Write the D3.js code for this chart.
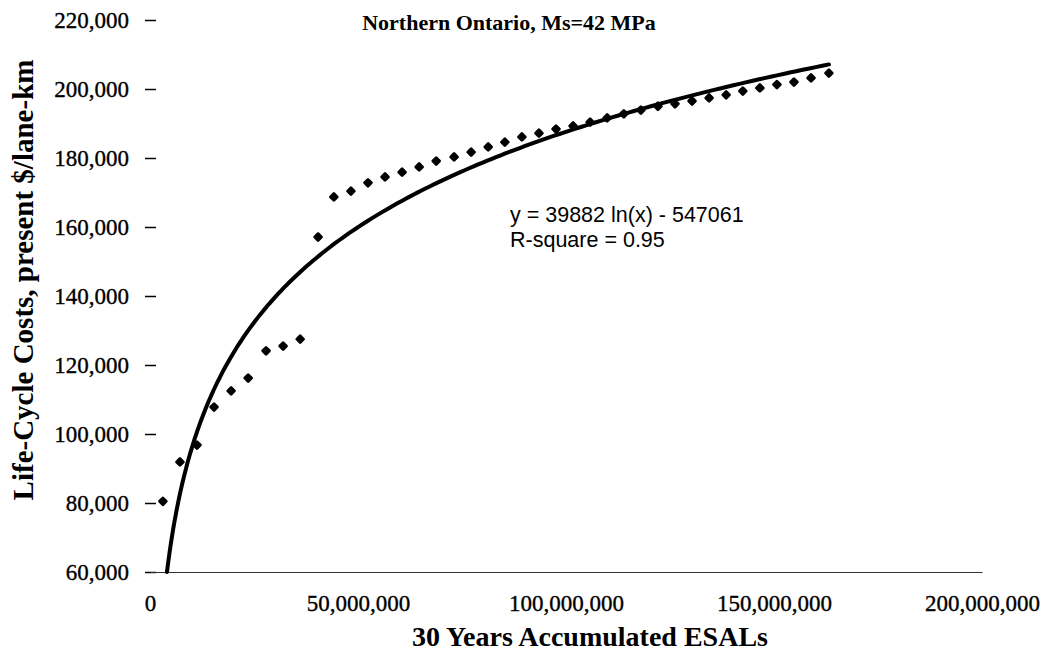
<!DOCTYPE html>
<html>
<head>
<meta charset="utf-8">
<script src="https://cdn.jsdelivr.net/npm/d3@7"></script>
<style>
  body { margin: 0; background: #fff; }
  text { fill: #000; }
</style>
</head>
<body>
<div id="chart"></div>
<script>
// accumulated ESALs (millions) and life-cycle costs
const esalMillions = [3.1, 7.2, 11.3, 15.4, 19.5, 23.6, 27.9, 32.0, 36.1, 40.4,
  44.2, 48.3, 52.4, 56.5, 60.6, 64.7, 68.8, 73.1, 77.2, 81.3,
  85.3, 89.4, 93.5, 97.6, 101.7, 105.8, 109.9, 113.9, 118.0, 122.1,
  126.2, 130.3, 134.4, 138.5, 142.5, 146.6, 150.7, 154.8, 158.9, 163.2];
const costs = [80500, 91900, 96800, 107800, 112500, 116200, 124100, 125500, 127500, 157100,
  168700, 170400, 172800, 174500, 175900, 177400, 179100, 180300, 181700, 183200,
  184600, 186100, 187200, 188400, 189300, 190400, 191600, 192800, 193900, 195000,
  195700, 196500, 197400, 198300, 199400, 200300, 201300, 202000, 203200, 204600];

// log trendline y = a ln(x) + b, as printed on the chart
const trendA = 39882, trendB = -547061;
const xTicks = [0, 50e6, 100e6, 150e6, 200e6];
const yTicks = [60000, 80000, 100000, 120000, 140000, 160000, 180000, 200000, 220000];
const chartTitle = "Northern Ontario, Ms=42 MPa";
const xTitle = "30 Years Accumulated ESALs";
const yTitle = "Life-Cycle Costs, present $/lane-km";
const eqLines = ["y = 39882 ln(x) - 547061", "R-square = 0.95"];

const W = 1055, H = 671;
const margin = { top: 20, right: 73, bottom: 99, left: 150 },
  width = W - margin.left - margin.right,
  height = H - margin.top - margin.bottom;

const svg = d3.select("#chart").append("svg")
  .attr("width", W).attr("height", H);
const g = svg.append("g")
  .attr("transform", `translate(${margin.left},${margin.top})`);

const x = d3.scaleLinear().domain([0, 200e6]).range([0, width]);
const y = d3.scaleLinear().domain([60000, 220000]).range([height, 0]);

const serif = "'Liberation Serif', 'Times New Roman', serif";

// Y axis: no spine, small cross ticks
const yAxis = g.append("g")
  .call(d3.axisLeft(y).tickValues(yTicks).tickSize(5).tickPadding(16).tickFormat(d3.format(",")));
yAxis.select(".domain").remove();
yAxis.selectAll(".tick line").attr("x1", 6).attr("stroke", "#000").attr("stroke-width", 1.5);
yAxis.selectAll("text")
  .style("font-family", serif).style("font-size", "23px")
  .style("stroke", "#000").style("stroke-width", 0.35);

// X axis: thin line, labels only
const xAxis = g.append("g")
  .attr("transform", `translate(0,${height})`)
  .call(d3.axisBottom(x).tickValues(xTicks).tickSize(0).tickPadding(23).tickFormat(d3.format(",")));
xAxis.select(".domain").attr("stroke", "#333").attr("stroke-width", 1.2);
xAxis.selectAll("text")
  .style("font-family", serif).style("font-size", "23px")
  .style("stroke", "#000").style("stroke-width", 0.35);

// trendline sampled from the printed equation, clipped at the axis minimum
const xStart = Math.exp((y.domain()[0] - trendB) / trendA);
const xEnd = d3.max(esalMillions) * 1e6;
const curve = d3.range(0, 201).map(i => {
  const xv = xStart + (xEnd - xStart) * Math.pow(i / 200, 2);
  return [xv, trendA * Math.log(xv) + trendB];
});
g.append("path")
  .datum(curve)
  .attr("fill", "none")
  .attr("stroke", "#000")
  .attr("stroke-width", 4)
  .attr("stroke-linecap", "round")
  .attr("d", d3.line().x(d => x(d[0])).y(d => y(d[1])));

// data markers (rounded diamonds)
g.append("g")
  .selectAll("rect")
  .data(esalMillions.map((e, i) => [e * 1e6, costs[i]]))
  .join("rect")
  .attr("x", -2.4).attr("y", -2.4)
  .attr("width", 4.8).attr("height", 4.8)
  .attr("fill", "#000").attr("stroke", "#000")
  .attr("stroke-width", 2.8).attr("stroke-linejoin", "round")
  .attr("transform", d => `translate(${x(d[0])},${y(d[1])}) rotate(45)`);

// equation annotation
const eq = svg.append("text")
  .attr("x", 510).attr("y", 222)
  .style("font-family", "'Liberation Sans', Arial, sans-serif")
  .style("font-size", "21.5px");
eq.selectAll("tspan").data(eqLines).join("tspan")
  .attr("x", 510).attr("dy", (d, i) => i ? 25 : 0)
  .text(d => d);

// titles
svg.append("text")
  .attr("x", 509).attr("y", 30)
  .attr("text-anchor", "middle")
  .style("font-family", serif).style("font-weight", "bold").style("font-size", "22px")
  .text(chartTitle);

svg.append("text")
  .attr("x", 590).attr("y", 646)
  .attr("text-anchor", "middle")
  .style("font-family", serif).style("font-weight", "bold").style("font-size", "28px")
  .text(xTitle);

svg.append("text")
  .attr("transform", "translate(33,280) rotate(-90)")
  .attr("text-anchor", "middle")
  .style("font-family", serif).style("font-weight", "bold").style("font-size", "29px")
  .text(yTitle);
</script>
</body>
</html>
